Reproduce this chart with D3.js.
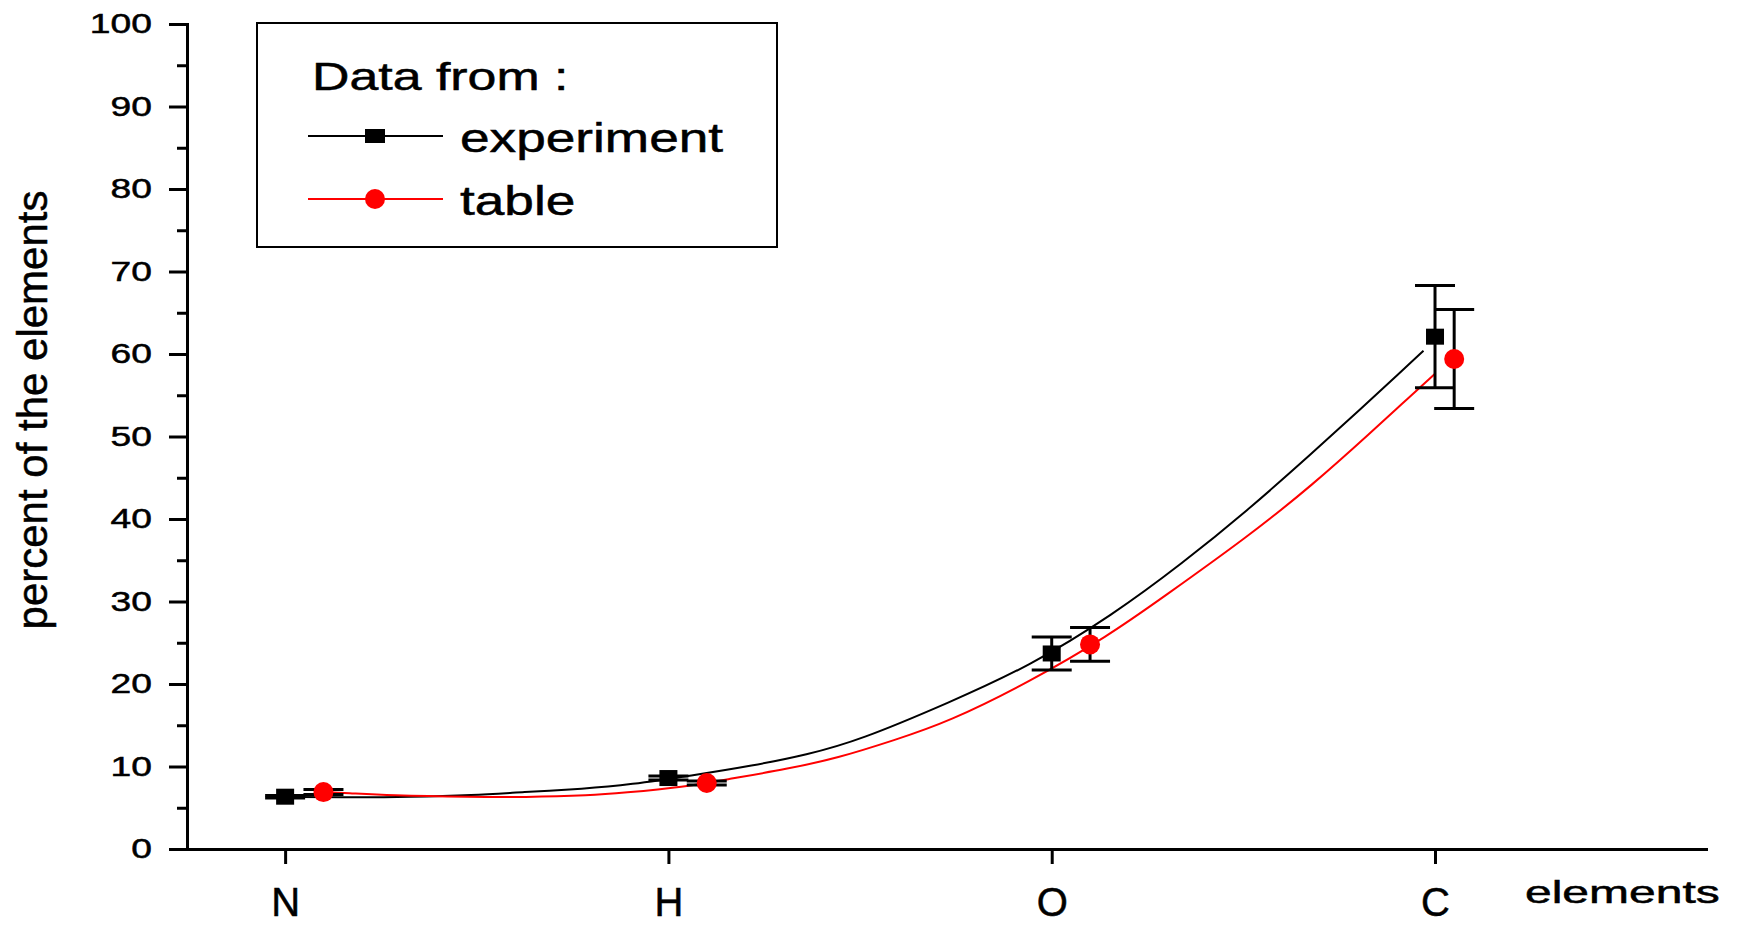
<!DOCTYPE html>
<html>
<head>
<meta charset="utf-8">
<script src="https://cdn.jsdelivr.net/npm/d3@7"></script>
<style>
  body { margin: 0; background: #fff; }
  text { font-family: "Liberation Sans", Arial, sans-serif; stroke: #000; stroke-width: 0.5px; }
</style>
</head>
<body>
<svg width="1742" height="925"></svg>
<script>
// categories on the x axis
var elements = ["N", "H", "O", "C"];
var yTicks = [0, 10, 20, 30, 40, 50, 60, 70, 80, 90, 100];
var yMinor = [5, 15, 25, 35, 45, 55, 65, 75, 85, 95];

// measured points (x position, value, error)
var expX = [1, 2, 3, 4];
var expY = [6.34, 8.6, 23.7, 62.1];
var expErr = [0.15, 0.25, 2.0, 6.2];
var tabX = [1.1, 2.1, 3.1, 4.05];
var tabY = [6.9, 8.0, 24.8, 59.4];
var tabErr = [0.3, 0.25, 2.05, 6.0];

// fitted curves
var expFitX = [1.00, 1.15, 1.33, 1.49, 1.62, 1.78, 1.90, 2.06, 2.22, 2.36, 2.50, 2.73, 2.94, 3.16, 3.34, 3.51, 3.68, 3.81, 3.91, 3.97];
var expFitY = [6.3, 6.25, 6.3, 6.5, 6.9, 7.3, 7.8, 8.9, 10.1, 11.4, 13.2, 17.7, 22.1, 28.4, 34.6, 41.0, 48.0, 53.5, 57.8, 60.4];
var tabFitX = [1.10, 1.16, 1.27, 1.49, 1.62, 1.80, 1.88, 2.04, 2.16, 2.31, 2.44, 2.59, 2.73, 2.94, 3.15, 3.29, 3.51, 3.68, 3.84, 3.91, 4.00];
var tabFitY = [6.9, 6.8, 6.5, 6.3, 6.27, 6.5, 6.8, 7.5, 8.5, 9.7, 11.0, 13.2, 15.4, 20.2, 25.9, 30.5, 37.8, 44.1, 50.8, 53.8, 57.6];

var legendTitle = "Data from :";
var legendNames = ["experiment", "table"];

var svg = d3.select("svg");
var stretch = 1.33; // text in the picture is drawn wide

var x = d3.scaleLinear().domain([0.744, 4.707]).range([187, 1706]);
var y = d3.scaleLinear().domain([0, 100]).range([849, 24]);

// curves
var line = d3.line()
  .x(function (d) { return x(d[0]); })
  .y(function (d) { return y(d[1]); })
  .curve(d3.curveBasis);

svg.append("path")
  .datum(d3.zip(expFitX, expFitY))
  .attr("fill", "none")
  .attr("stroke", "#000")
  .attr("stroke-width", 2)
  .attr("d", line);

svg.append("path")
  .datum(d3.zip(tabFitX, tabFitY))
  .attr("fill", "none")
  .attr("stroke", "#ff0000")
  .attr("stroke-width", 2)
  .attr("d", line);

// error bars
function errorBars(xs, ys, es) {
  var g = svg.append("g").attr("stroke", "#000").attr("stroke-width", 3);
  var data = d3.range(xs.length).map(function (i) { return { x: xs[i], y: ys[i], e: es[i] }; });
  g.selectAll(".v").data(data).enter().append("line")
    .attr("x1", function (d) { return x(d.x); })
    .attr("x2", function (d) { return x(d.x); })
    .attr("y1", function (d) { return y(d.y - d.e); })
    .attr("y2", function (d) { return y(d.y + d.e); });
  [-1, 1].forEach(function (s) {
    g.selectAll(".cap" + s).data(data).enter().append("line")
      .attr("x1", function (d) { return x(d.x) - 20; })
      .attr("x2", function (d) { return x(d.x) + 20; })
      .attr("y1", function (d) { return y(d.y + s * d.e); })
      .attr("y2", function (d) { return y(d.y + s * d.e); });
  });
}
errorBars(expX, expY, expErr);
errorBars(tabX, tabY, tabErr);

// markers
svg.selectAll(".sq").data(d3.zip(expX, expY)).enter().append("rect")
  .attr("x", function (d) { return x(d[0]) - 9; })
  .attr("y", function (d) { return y(d[1]) - 8; })
  .attr("width", 18)
  .attr("height", 16)
  .attr("fill", "#000");

svg.selectAll(".ci").data(d3.zip(tabX, tabY)).enter().append("circle")
  .attr("cx", function (d) { return x(d[0]); })
  .attr("cy", function (d) { return y(d[1]); })
  .attr("r", 10)
  .attr("fill", "#ff0000");

// axes
var yAxis = svg.append("g")
  .attr("transform", "translate(187,0)")
  .call(d3.axisLeft(y).tickValues(yTicks).tickSize(18).tickSizeOuter(0));
yAxis.selectAll(".domain, .tick line").attr("stroke", "#000").attr("stroke-width", 3);
yAxis.select(".domain").attr("stroke-linecap", "square");
yAxis.selectAll("text")
  .attr("x", null)
  .attr("fill", "#000")
  .attr("font-size", 28)
  .attr("font-family", "Liberation Sans, Arial, sans-serif")
  .attr("transform", "translate(-35,0) scale(" + stretch + ",1)");

var yMinorAxis = svg.append("g")
  .attr("transform", "translate(187,0)")
  .call(d3.axisLeft(y).tickValues(yMinor).tickSize(10).tickFormat(""));
yMinorAxis.select(".domain").remove();
yMinorAxis.selectAll(".tick line").attr("stroke", "#000").attr("stroke-width", 3);

var xAxis = svg.append("g")
  .attr("transform", "translate(0,849)")
  .call(d3.axisBottom(x).tickValues([1, 2, 3, 4])
    .tickFormat(function (d) { return elements[d - 1]; })
    .tickSize(15).tickPadding(24).tickSizeOuter(0));
xAxis.selectAll(".domain, .tick line").attr("stroke", "#000").attr("stroke-width", 3);
xAxis.select(".domain").attr("stroke-linecap", "square");
xAxis.selectAll("text")
  .attr("fill", "#000")
  .attr("font-size", 40)
  .attr("font-family", "Liberation Sans, Arial, sans-serif");

// axis titles
svg.append("text")
  .attr("transform", "translate(47,410) rotate(-90)")
  .attr("text-anchor", "middle")
  .attr("font-size", 42)
  .text("percent of the elements");

svg.append("text")
  .attr("transform", "translate(1525,903) scale(1.5,1)")
  .attr("font-size", 32)
  .text("elements");

// legend
var legend = svg.append("g");
legend.append("rect")
  .attr("x", 257).attr("y", 23)
  .attr("width", 520).attr("height", 224)
  .attr("fill", "none")
  .attr("stroke", "#000")
  .attr("stroke-width", 2);

legend.append("text")
  .attr("transform", "translate(312,90) scale(" + stretch + ",1)")
  .attr("font-size", 39)
  .text(legendTitle);

var legendColors = ["#000", "#ff0000"];
legendNames.forEach(function (name, i) {
  var ly = 136 + i * 63;
  legend.append("line")
    .attr("x1", 308).attr("x2", 443)
    .attr("y1", ly).attr("y2", ly)
    .attr("stroke", legendColors[i])
    .attr("stroke-width", 2);
  if (i === 0) {
    legend.append("rect")
      .attr("x", 365).attr("y", ly - 7)
      .attr("width", 20).attr("height", 14)
      .attr("fill", "#000");
  } else {
    legend.append("circle")
      .attr("cx", 375).attr("cy", ly)
      .attr("r", 10)
      .attr("fill", "#ff0000");
  }
  legend.append("text")
    .attr("transform", "translate(460," + (ly + 16) + ") scale(" + stretch + ",1)")
    .attr("font-size", 40)
    .text(name);
});
</script>
</body>
</html>
